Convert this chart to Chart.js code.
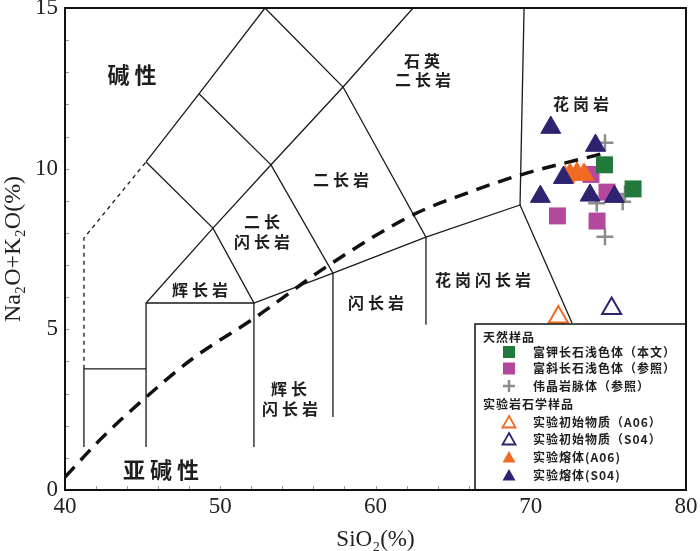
<!DOCTYPE html>
<html><head><meta charset="utf-8">
<script src="https://cdn.jsdelivr.net/npm/chart.js@4.4.1/dist/chart.umd.min.js"></script>
<style>html,body{margin:0;padding:0;background:#fff;}#wrap{width:700px;height:551px;}</style>
</head><body><div id="wrap"><canvas id="c" width="700" height="551"></canvas></div>
<script>
// ---- axis ticks ----
const xTickLabels = [40, 50, 60, 70, 80];
const yTickLabels = [0, 5, 10, 15];
const xMinorTicks = [42,44,46,48,50,52,54,56,58,60,62,64,66,68,70,72,74,76,78];
const yMinorTicks = [1,2,3,4,5,6,7,8,9,10,11,12,13,14];

// ---- samples [SiO2, Na2O+K2O] ----
const kfsLeucosome = [[74.75,10.12],[76.59,9.37]];
const plLeucosome  = [[73.88,9.82],[74.91,9.27],[71.72,8.53],[74.27,8.37]];
const pegmatite    = [[74.78,10.81],[74.25,8.92],[75.92,8.97],[74.78,7.88],[76.07,9.21]];
const startA06     = [[71.78,5.38]];
const startS04     = [[75.21,5.65]];
const meltA06      = [[72.2,9.74],[72.53,9.82],[72.98,9.85],[73.43,9.82]];
const meltS04      = [[71.29,11.28],[74.17,10.72],[72.10,9.72],[70.62,9.13],[73.82,9.17],[75.39,9.13]];

// ---- classification boundaries ----
const bndDashed = [[41.22,3.77],[41.22,7.84],[45.22,10.21]];
const bnd1 = [[45.22,1.34],[45.22,5.82],[49.53,8.15],[53.27,10.12],[57.91,12.54],[62.42,15]];
const bnd2 = [[45.22,10.21],[48.63,12.33],[52.88,15]];
const bnd3 = [[52.88,15],[57.91,12.54],[63.25,7.87],[63.25,5.14]];
const bnd4 = [[48.63,12.33],[53.27,10.12],[57.26,6.75],[57.26,2.27]];
const bnd5 = [[45.22,10.21],[49.53,8.15],[52.17,5.82],[52.17,1.34]];
const bnd6 = [[45.22,5.82],[52.17,5.82],[57.26,6.75],[63.25,7.87],[69.31,8.87],[72.66,5.2]];
const bnd7 = [[69.57,15],[69.31,8.87]];
const bnd8 = [[41.22,1.34],[41.22,3.77],[45.22,3.77]];
const alkalineLine = [[40,0.4],[42.25,1.56],[45.2,2.88],[48.25,4.1],[52.2,5.35],[57,7.0],[62.4,8.56],[65.9,9.24],[69.3,9.8],[74.9,10.5]];

// ---- field labels [text, SiO2, Na2O+K2O] ----
const bigLabels = [['碱性',44.32,12.92],['亚碱性',46.18,0.62]];
const fieldLabels = [
  ['石英',63.0,13.35],['二长岩',63.06,12.76],['花岗岩',73.24,12.03],
  ['二长岩',57.78,9.66],['二长',52.69,8.34],['闪长岩',52.69,7.72],
  ['辉长岩',48.70,6.22],['辉长',54.43,3.14],['闪长岩',54.49,2.52],
  ['闪长岩',60.03,5.82],['花岗闪长岩',66.92,6.55]
];

const toXY = a => a.map(p => ({x:p[0], y:p[1]}));
const serif = '"Liberation Serif","Times New Roman",serif';
const cjk = '"Noto Sans CJK SC","Noto Sans",sans-serif';

const C = {green:'#217a3c', magenta:'#b4489d', grey:'#8c8c8c', orange:'#f26a22', navy:'#2e2371'};

function lineDs(arr, dashed){
  return {type:'scatter', data:toXY(arr), showLine:true, borderColor:'#1a1a1a', borderWidth:1.3,
    borderDash: dashed ? [4,4] : [], pointRadius:0, order:20, tension:0};
}

const datasets = [
  {label:'meltS04', data:toXY(meltS04), pointStyle:'triangle', pointRadius:11.5, backgroundColor:C.navy, borderColor:C.navy, borderWidth:1, order:0},
  {label:'meltA06', data:toXY(meltA06), pointStyle:'triangle', pointRadius:11.5, backgroundColor:C.orange, borderColor:C.orange, borderWidth:1, order:1},
  {label:'kfs', data:toXY(kfsLeucosome), pointStyle:'rect', pointRadius:12, backgroundColor:C.green, borderColor:C.green, borderWidth:0, order:2},
  {label:'pl', data:toXY(plLeucosome), pointStyle:'rect', pointRadius:12, backgroundColor:C.magenta, borderColor:C.magenta, borderWidth:0, order:3},
  {label:'peg', data:toXY(pegmatite), pointStyle:'cross', pointRadius:8.5, borderColor:C.grey, borderWidth:2.5, order:4},
  {label:'startA06', data:toXY(startA06), pointStyle:'triangle', pointRadius:11, backgroundColor:'#fff', borderColor:C.orange, borderWidth:2, order:5},
  {label:'startS04', data:toXY(startS04), pointStyle:'triangle', pointRadius:11, backgroundColor:'#fff', borderColor:C.navy, borderWidth:2, order:5},
  {type:'scatter', data:toXY(alkalineLine), showLine:true, borderColor:'#111', borderWidth:3.5, borderDash:[14,9], pointRadius:0, cubicInterpolationMode:'monotone', order:15},
  lineDs(bndDashed, true), lineDs(bnd1), lineDs(bnd2), lineDs(bnd3), lineDs(bnd4),
  lineDs(bnd5), lineDs(bnd6), lineDs(bnd7), lineDs(bnd8)
];

function drawMarker(ctx, kind, x, y){
  ctx.save();
  if (kind==='sqG' || kind==='sqM'){
    ctx.fillStyle = kind==='sqG' ? C.green : C.magenta;
    ctx.fillRect(x-6, y-6, 12, 12);
  } else if (kind==='plus'){
    ctx.strokeStyle = C.grey; ctx.lineWidth = 2.5;
    ctx.beginPath(); ctx.moveTo(x-6,y); ctx.lineTo(x+6,y); ctx.moveTo(x,y-6); ctx.lineTo(x,y+6); ctx.stroke();
  } else {
    const open = kind.startsWith('open');
    const col = kind.endsWith('A') ? C.orange : C.navy;
    ctx.beginPath(); ctx.moveTo(x, y-6); ctx.lineTo(x+6.5, y+5.5); ctx.lineTo(x-6.5, y+5.5); ctx.closePath();
    if (open){ ctx.strokeStyle = col; ctx.lineWidth = 1.8; ctx.fillStyle='#fff'; ctx.fill(); ctx.stroke(); }
    else { ctx.fillStyle = col; ctx.fill(); }
  }
  ctx.restore();
}

const legendRows = [
  {head:'天然样品'},
  {m:'sqG', t:'富钾长石浅色体（本文）'},
  {m:'sqM', t:'富斜长石浅色体（参照）'},
  {m:'plus', t:'伟晶岩脉体（参照）'},
  {head:'实验岩石学样品'},
  {m:'openA', t:'实验初始物质（A06）'},
  {m:'openS', t:'实验初始物质（S04）'},
  {m:'fillA', t:'实验熔体(A06)'},
  {m:'fillS', t:'实验熔体(S04)'}
];
const legendRowY = [13, 28, 44.5, 62, 80, 98, 115, 133, 151];

const overlay = {
  id:'overlay',
  beforeDatasetsDraw(chart){
    const {ctx, scales:{x, y}, chartArea:a} = chart;
    ctx.save();
    ctx.strokeStyle = '#9a9a9a'; ctx.lineWidth = 1;
    xMinorTicks.forEach(v => { const px = Math.round(x.getPixelForValue(v))+0.5; ctx.beginPath(); ctx.moveTo(px, a.bottom); ctx.lineTo(px, a.bottom-4); ctx.stroke(); });
    yMinorTicks.forEach(v => { const py = Math.round(y.getPixelForValue(v))+0.5; ctx.beginPath(); ctx.moveTo(a.left, py); ctx.lineTo(a.left+4, py); ctx.stroke(); });
    ctx.fillStyle = '#1e1e1e'; ctx.textAlign = 'center'; ctx.textBaseline = 'middle';
    ctx.font = 'bold 16px ' + cjk; ctx.letterSpacing = '4px';
    fieldLabels.forEach(([t, vx, vy]) => ctx.fillText(t, x.getPixelForValue(vx)+2, y.getPixelForValue(vy)));
    ctx.font = 'bold 22px ' + cjk; ctx.letterSpacing = '5px';
    bigLabels.forEach(([t, vx, vy]) => ctx.fillText(t, x.getPixelForValue(vx)+2.5, y.getPixelForValue(vy)));
    ctx.restore();
  },
  afterDraw(chart){
    const {ctx, chartArea:a} = chart;
    ctx.save();
    const L = a.right - 211, T = a.bottom - 166;
    ctx.fillStyle = '#fff'; ctx.fillRect(L, T, a.right - L, a.bottom - T);
    ctx.strokeStyle = '#111'; ctx.lineWidth = 1.5; ctx.strokeRect(L, T, a.right - L, a.bottom - T);
    ctx.fillStyle = '#1e1e1e'; ctx.textBaseline = 'middle'; ctx.textAlign = 'left';
    ctx.font = 'bold 12px ' + cjk; ctx.letterSpacing = '1px';
    legendRows.forEach((r, i) => {
      const yy = T + legendRowY[i];
      if (r.head){ ctx.fillText(r.head, L + 8, yy); }
      else { drawMarker(ctx, r.m, L + 34, yy); ctx.fillText(r.t, L + 58, yy); }
    });
    ctx.strokeStyle = '#111'; ctx.lineWidth = 2;
    ctx.strokeRect(a.left, a.top, a.right - a.left, a.bottom - a.top);
    ctx.restore();
  }
};

new Chart(document.getElementById('c'), {
  type:'scatter',
  data:{datasets},
  options:{
    responsive:false, animation:false, devicePixelRatio:1,
    layout:{autoPadding:false, padding:{top:8, right:14, left:0, bottom:0}},
    plugins:{legend:{display:false}, tooltip:{enabled:false}},
    scales:{
      x:{type:'linear', min:40, max:80,
        afterBuildTicks(s){ s.ticks = xTickLabels.map(v => ({value:v})); },
        ticks:{font:{family:serif, size:23}, color:'#222', padding:3, maxRotation:0, autoSkip:false},
        grid:{display:false, drawTicks:false}, border:{display:false},
        title:{display:true, text:'SiO₂(%)', font:{family:serif, size:23, lineHeight:1}, color:'#222', padding:{top:0,bottom:0}},
        afterFit(s){ s.height = 61; s.paddingLeft = 0; s.paddingRight = 0; }
      },
      y:{type:'linear', min:0, max:15,
        afterBuildTicks(s){ s.ticks = yTickLabels.map(v => ({value:v})); },
        ticks:{font:{family:serif, size:23, lineHeight:0.5}, color:'#222', padding:7, autoSkip:false},
        grid:{display:false, drawTicks:false}, border:{display:false},
        title:{display:true, text:'Na₂O+K₂O(%)', font:{family:serif, size:24, lineHeight:1}, color:'#222', padding:{top:2,bottom:0}},
        afterFit(s){ s.width = 65; s.paddingTop = 0; s.paddingBottom = 0; }
      }
    }
  },
  plugins:[overlay]
});
</script></body></html>
